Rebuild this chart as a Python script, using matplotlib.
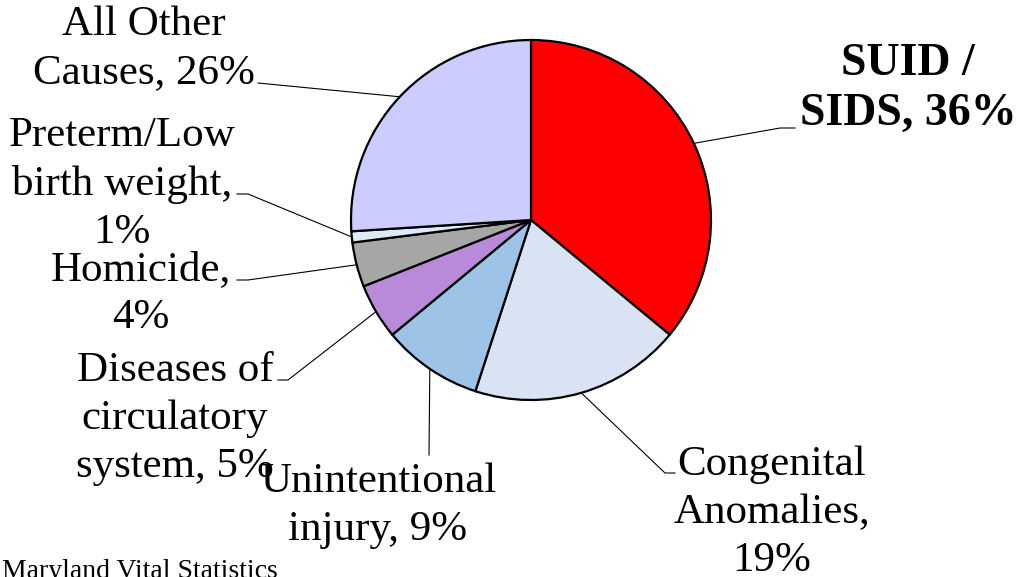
import matplotlib
matplotlib.use("Agg")
import matplotlib.pyplot as plt
import numpy as np

# ---- data ----
categories = ["SUID /\nSIDS", "Congenital\nAnomalies", "Unintentional\ninjury",
              "Diseases of\ncirculatory\nsystem", "Homicide", "Preterm/Low\nbirth weight",
              "All Other\nCauses"]
values = [36, 19, 9, 5, 4, 1, 26]
label_text = ["SUID /\nSIDS, 36%", "Congenital\nAnomalies,\n19%", "Unintentional\ninjury, 9%",
              "Diseases of\ncirculatory\nsystem, 5%", "Homicide,\n4%", "Preterm/Low\nbirth weight,\n1%",
              "All Other\nCauses, 26%"]
colors = ["#FF0000", "#DAE3F3", "#9DC3E6", "#B98AD9", "#A6A6A6", "#DDEBF7", "#CCCCFF"]
source = "Maryland Vital Statistics"

# ---- layout (pixel space, y down) ----
W, H = 1026, 577
fig = plt.figure(figsize=(W / 100, H / 100), dpi=100)
ax = fig.add_axes([0, 0, 1, 1])
cx, cy, R = 531, 220, 180

wedges, _ = ax.pie(values, colors=colors, startangle=-90, counterclock=True,
                   center=(cx, cy), radius=R,
                   wedgeprops=dict(edgecolor="black", linewidth=1.6))
ax.set_xlim(0, W)
ax.set_ylim(H, 0)
ax.set_aspect("equal")
ax.axis("off")

# label positions: (text x, last-line baseline y, ha, leader points after the wedge edge)
label_layout = [
    (908, 125, "center", [(780, 128), (795, 128)]),
    (772, 571, "center", [(665, 473), (675, 473)]),
    (378, 540, "center", [(429, 455)]),
    (175, 477, "center", [(288, 380), (278, 380)]),
    (141, 328, "center", [(248, 280), (237, 280)]),
    (122, 243, "center", [(248, 194), (237, 194)]),
    (144, 83, "center", [(258, 83)]),
]

serif = ["Liberation Serif", "DejaVu Serif"]
for i, (w, txt, lay) in enumerate(zip(wedges, label_text, label_layout)):
    tx, ty, ha, pts = lay
    mid = np.deg2rad((w.theta1 + w.theta2) / 2)
    ex = cx + R * np.cos(mid)
    ey = cy + R * np.sin(mid)
    xs = [ex] + [p[0] for p in pts]
    ys = [ey] + [p[1] for p in pts]
    ax.plot(xs, ys, color="black", linewidth=0.8, zorder=0.5)
    if i == 0:
        ax.text(tx, ty, txt, ha=ha, va="baseline", fontsize=33, fontweight="bold",
                family=serif, linespacing=1.25, multialignment="center")
    else:
        ax.text(tx, ty, txt, ha=ha, va="baseline", fontsize=31,
                family=serif, linespacing=1.32, multialignment="center")

ax.text(2, 578, source, ha="left", va="baseline", fontsize=20, family=serif)

fig.savefig("out.png", dpi=100)
